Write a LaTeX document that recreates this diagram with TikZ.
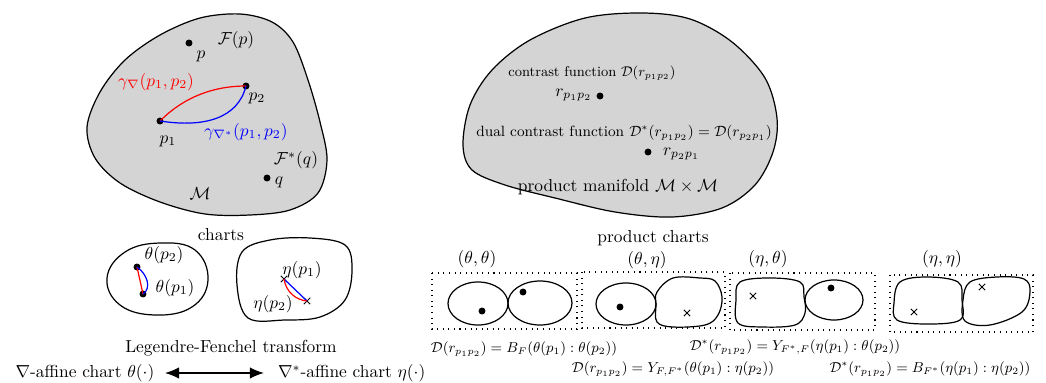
\documentclass[tikz,border=0pt]{standalone}
\usepackage{amsmath,amssymb}
\usetikzlibrary{arrows.meta,shapes.misc}
\begin{document}
\begin{tikzpicture}[x=0.575pt,y=-0.575pt,
  outline/.style={draw=black,line width=0.7pt},
  region/.style={outline,fill=black!17},
  dot/.style={circle,fill=black,inner sep=0pt,minimum size=4pt},
  xmark/.style={cross out,draw=black,inner sep=0pt,minimum size=3.2pt,line width=0.5pt},
  frame/.style={draw=black,line width=0.6pt,dash pattern=on 0.6pt off 2.6pt},
  lbl/.style={inner sep=1pt},
  small/.style={inner sep=1pt,font=\small},
  curve/.style={line width=0.7pt}]
\useasboundingbox (0,0) rectangle (1046,383);

% ---- manifold M ----
\draw[region] plot[smooth cycle,tension=0.55] coordinates {(87,127) (100,92) (125,60) (160,35) (200,18) (240,14) (272,22) (293,42) (308,80) (320,122) (327,160) (318,193) (290,210) (250,215) (205,214) (160,202) (120,183) (95,158)};
\node[dot] (p) at (189,43) {};
\node[lbl] (plab) at (201,56) {$p$};
\node[lbl] (Fp) at (236,40) {$\mathcal{F}(p)$};
\node[dot] (p1) at (160,121) {};
\node[dot] (p2) at (246,86) {};
\draw[curve,red] (p1.center) .. controls (185,96) and (215,86) .. (p2.center);
\draw[curve,blue] (p1.center) .. controls (205,128) and (238,118) .. (p2.center);
\node[lbl] (p1lab) at (168,141) {$p_1$};
\node[lbl] (p2lab) at (257,98) {$p_2$};
\node[lbl,text=red] (gred) at (156,82) {$\gamma_{\nabla}(p_1,p_2)$};
\node[lbl,text=blue] (gblue) at (246,132) {$\gamma_{\nabla^*}(p_1,p_2)$};
\node[lbl] (Fq) at (296,160) {$\mathcal{F}^*(q)$};
\node[dot] (q) at (267,178) {};
\node[lbl] (qlab) at (279,182) {$q$};
\node[lbl] (M) at (200,194) {$\mathcal{M}$};

% ---- charts ----
\node[lbl] (charts) at (221,235) {charts};
\draw[outline] plot[smooth cycle,tension=0.7] coordinates {(107,278) (125,252) (160,243) (195,250) (208,280) (192,307) (155,315) (120,305)};
\node[dot] (t2) at (137,267) {};
\node[dot] (t1) at (143,294) {};
\draw[curve,red] (t2.center) -- (t1.center);
\draw[curve,blue] (t2.center) .. controls (147,274) and (152,288) .. (t1.center);
\node[lbl] (t2lab) at (164,255) {$\theta(p_2)$};
\node[lbl] (t1lab) at (175,288) {$\theta(p_1)$};

\draw[outline] plot[smooth cycle,tension=0.6] coordinates {(237,285) (242,252) (270,240) (310,238) (345,245) (352,270) (345,300) (320,317) (285,320) (248,318)};
\node[xmark] (e1) at (284,279) {};
\node[xmark] (e2) at (307,301) {};
\draw[curve,blue] (e1.center) -- (e2.center);
\draw[curve,red] (e1.center) .. controls (286,292) and (296,300) .. (e2.center);
\node[lbl] (e1lab) at (302,270) {$\eta(p_1)$};
\node[lbl] (e2lab) at (273,304) {$\eta(p_2)$};

\node[lbl] (LF) at (231,348) {Legendre-Fenchel transform};
\node[lbl] (lt) at (85,373) {$\nabla$-affine chart $\theta(\cdot)$};
\node[lbl,anchor=west] (rt) at (276,373) {$\nabla^*$-affine chart $\eta(\cdot)$};
\draw[line width=0.6pt,{Latex[length=8pt,width=6.5pt]}-{Latex[length=8pt,width=6.5pt]}] ([xshift=5pt]lt.east) -- ([xshift=-7pt]rt.west);

% ---- product manifold ----
\draw[region] plot[smooth cycle,tension=0.55] coordinates {(463,145) (470,105) (492,70) (530,40) (585,18) (642,13) (690,19) (732,42) (765,78) (777,118) (773,152) (755,185) (722,208) (672,217) (615,212) (555,198) (505,185) (472,170)};
\node[small,scale=0.9] (cf) at (592,73) {contrast function $\mathcal{D}(r_{p_1p_2})$};
\node[dot] (r12) at (600,96) {};
\node[lbl,anchor=east] (r12lab) at (594,95) {$r_{p_1p_2}$};
\node[small,scale=0.95] (dcf) at (624,133) {dual contrast function $\mathcal{D}^*(r_{p_1p_2})=\mathcal{D}(r_{p_2p_1})$};
\node[dot] (r21) at (648,152) {};
\node[lbl,anchor=west] (r21lab) at (661,154) {$r_{p_2p_1}$};
\node[lbl] (pm) at (618,187) {product manifold $\mathcal{M}\times\mathcal{M}$};

% ---- product charts ----
\node[lbl] (pc) at (653,238) {product charts};
\node[lbl] (tt) at (477,259) {$(\theta,\theta)$};
\node[lbl] (te) at (647,260) {$(\theta,\eta)$};
\node[lbl] (et) at (768,259) {$(\eta,\theta)$};
\node[lbl] (ee) at (942,259) {$(\eta,\eta)$};

\draw[frame] (432,273) rectangle (577,329);
\draw[frame] (582,272) rectangle (725,328);
\draw[frame] (730,273) rectangle (875,330);
\draw[frame] (890,275) rectangle (1033,332);

% (theta,theta)
\draw[outline] (478,303.5) ellipse [x radius=30, y radius=21.5];
\draw[outline] (540,303) ellipse [x radius=32, y radius=22];
\node[dot] (a1) at (482,311) {};
\node[dot] (a2) at (523,292) {};
% (theta,eta)
\draw[outline] (626,304) ellipse [x radius=30, y radius=21];
\draw[outline] plot[smooth cycle,tension=0.6] coordinates {(657,292) (673,278) (700,278) (715,281) (722,297) (718,315) (705,325) (673,327) (657,322) (656,305)};
\node[dot] (b1) at (620,307) {};
\node[xmark] (b2) at (687,313) {};
% (eta,theta)
\draw[outline] plot[smooth cycle,tension=0.6] coordinates {(740,282) (770,278) (800,282) (804,297) (805,313) (795,325) (763,327) (738,323) (736,300)};
\draw[outline] (834,300) ellipse [x radius=29, y radius=20];
\node[xmark] (c1) at (753,296) {};
\node[dot] (c2) at (831,288) {};
% (eta,eta)
\draw[outline] plot[smooth cycle,tension=0.6] coordinates {(900,282) (927,277) (958,282) (962,300) (960,320) (927,324) (897,320) (894,303)};
\draw[outline] plot[smooth cycle,tension=0.6] coordinates {(970,282) (997,277) (1024,279) (1030,292) (1022,312) (990,325) (965,321) (963,300)};
\node[xmark] (d1) at (914,312) {};
\node[xmark] (d2) at (982,287) {};

% formulas
\node[small,scale=0.92] (f1) at (524,349) {$\mathcal{D}(r_{p_1p_2})=B_F(\theta(p_1):\theta(p_2))$};
\node[small,scale=0.92] (f2) at (795,347) {$\mathcal{D}^*(r_{p_1p_2})=Y_{F^*,F}(\eta(p_1):\theta(p_2))$};
\node[small,scale=0.92] (f3) at (673,369) {$\mathcal{D}(r_{p_1p_2})=Y_{F,F^*}(\theta(p_1):\eta(p_2))$};
\node[small,scale=0.92] (f4) at (930,369) {$\mathcal{D}^*(r_{p_1p_2})=B_{F^*}(\eta(p_1):\eta(p_2))$};
\end{tikzpicture}
\end{document}
